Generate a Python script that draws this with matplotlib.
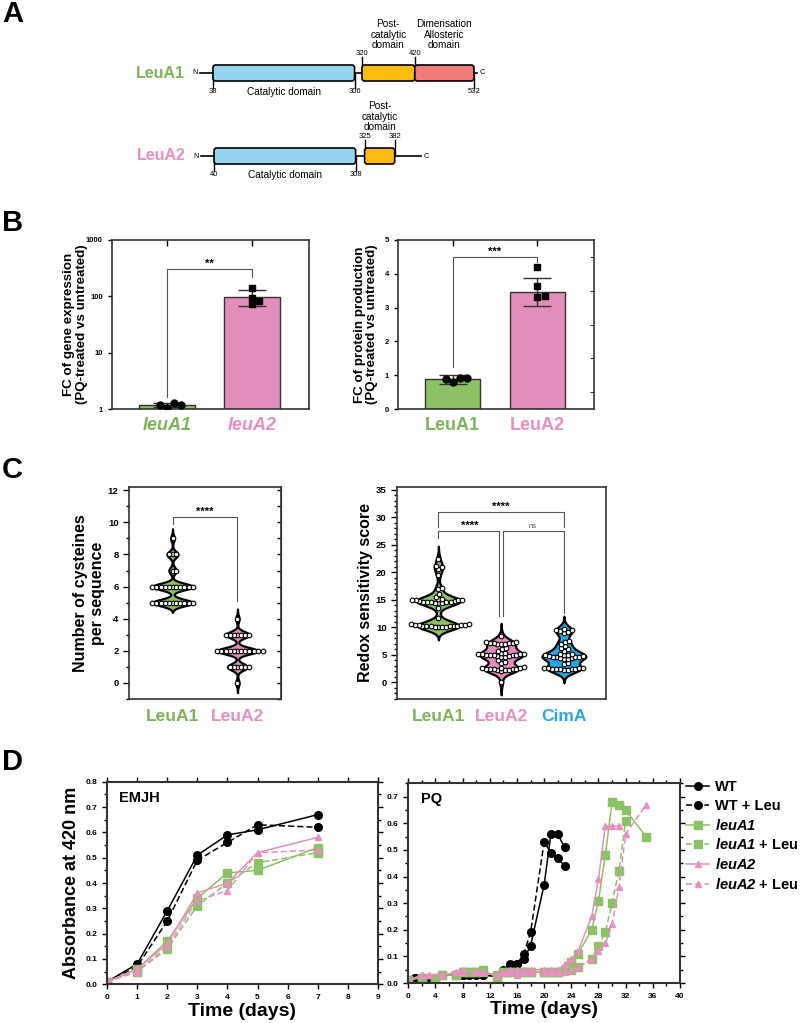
import numpy as np
import matplotlib
matplotlib.use("Agg")
import matplotlib.pyplot as plt
from matplotlib.patches import FancyBboxPatch
from matplotlib.ticker import MultipleLocator, FixedLocator, FormatStrFormatter

plt.rcParams['font.family'] = ['Liberation Sans', 'DejaVu Sans']
plt.rcParams['mathtext.fontset'] = 'custom'
plt.rcParams['mathtext.it'] = 'Liberation Sans:italic:bold'
plt.rcParams['mathtext.rm'] = 'Liberation Sans:italic:bold'

GREEN = '#7db35a'
PINK = '#e68fc0'
BLUE = '#27a9e1'
GREEN_FILL = '#8cc265'
PINK_FILL = '#e38dbb'
BLUE_FILL = '#22a8e4'
CYAN = '#96d4f0'
YELLOW = '#fbbc12'
SALMON = '#ef7b7b'
EDGE = '#333333'

# ---------------- data ----------------
# A: domain boundaries (residue numbers)
leua1_domains = [(38, 306), (320, 420), (420, 532)]
leua1_top = [320, 420]
leua1_bottom = [38, 306, 532]
leua2_domains = [(40, 308), (325, 382)]
leua2_top = [325, 382]
leua2_bottom = [40, 308]

# B: fold change (PQ-treated vs untreated)
gene_names = ['leuA1', 'leuA2']
gene_mean = [1.18, 97]
gene_err_lo = [0.10, 29]
gene_err_hi = [0.10, 31]
gene_leua1 = [1.05, 1.28, 1.18, 1.20]
gene_leua2 = [140, 95, 72, 82]

prot_names = ['LeuA1', 'LeuA2']
prot_mean = [0.88, 3.47]
prot_sd = [0.14, 0.41]
prot_leua1 = [0.80, 0.93, 0.89, 0.93]
prot_leua2 = [4.21, 3.65, 3.32, 3.35]

# C: cysteines per sequence
cys_leua1 = [5] * 11 + [6] * 11 + [7] * 2 + [8] * 3 + [9]
cys_leua2 = [0] + [1] * 6 + [2] * 12 + [3] * 7 + [4]

# C: redox sensitivity score
redox_leua1 = [10.0, 10.0, 10.1, 10.1, 10.2, 10.2, 10.2, 10.3, 10.3, 10.3, 10.4, 10.4,
               10.5, 10.5, 10.6, 10.6, 11.8, 13.5,
               14.4, 14.5, 14.5, 14.6, 14.6, 14.6, 14.7, 14.7, 14.8, 14.8, 14.9, 14.9,
               15.0, 15.0, 15.1, 15.2, 15.6, 16.0, 17.0, 17.2, 19.5, 20.6, 21.0, 21.2, 22.5]
redox_leua2 = [0.0, 2.0, 2.2, 2.3, 2.3, 2.4, 2.4, 2.5, 2.5, 2.5, 2.6, 2.6, 2.7, 2.8,
               3.5, 3.8, 4.0,
               4.6, 4.7, 4.8, 4.8, 4.9, 4.9, 5.0, 5.0, 5.0, 5.1, 5.1, 5.2, 5.2, 5.3, 5.4,
               5.8, 6.0, 6.3,
               6.9, 7.0, 7.0, 7.1, 7.1, 7.2, 7.2, 7.3, 7.3, 8.5]
redox_cima = [2.2, 2.3, 2.4, 2.4, 2.5, 2.5, 2.5, 2.6, 2.6, 2.7, 2.7, 3.3, 3.6,
              4.2, 4.3, 4.4, 4.5, 4.6, 4.6, 4.7, 4.7, 4.8, 4.8, 4.9, 5.0, 5.0, 5.1, 5.2,
              5.8, 6.1, 6.3, 6.6, 7.0, 7.3, 7.6,
              9.0, 9.2, 9.4, 9.5, 9.6, 9.8]

# D: growth curves, EMJH
emjh_days = [0, 1, 2, 3, 4, 5, 7]
emjh_wt = [0.01, 0.08, 0.29, 0.51, 0.59, 0.61, 0.67]
emjh_wt_leu = [0.01, 0.07, 0.25, 0.49, 0.56, 0.63, 0.62]
emjh_a1 = [0.01, 0.06, 0.17, 0.34, 0.44, 0.45, 0.54]
emjh_a1_leu = [0.01, 0.05, 0.14, 0.31, 0.40, 0.48, 0.52]
emjh_a2 = [0.01, 0.06, 0.16, 0.36, 0.40, 0.52, 0.58]
emjh_a2_leu = [0.01, 0.05, 0.15, 0.33, 0.37, 0.52, 0.53]

# D: growth curves, PQ
pq_wt_days = [0, 1, 2, 3, 4, 5, 7, 8, 9, 10, 11, 13, 14, 15, 16, 17, 18, 20, 21, 22, 23]
pq_wt = [0.01, 0.02, 0.02, 0.02, 0.01, 0.03, 0.03, 0.03, 0.03, 0.03, 0.03, 0.025,
         0.04, 0.05, 0.07, 0.09, 0.14, 0.37, 0.56, 0.56, 0.51]
pq_wt_leu = [0.01, 0.02, 0.02, 0.02, 0.01, 0.03, 0.03, 0.03, 0.03, 0.04, 0.03, 0.025,
             0.05, 0.07, 0.07, 0.11, 0.19, 0.53, 0.49, 0.47, 0.44]
pq_a1_days = [0, 2, 4, 5, 7, 8, 9, 10, 11, 13, 14, 15, 16, 17, 18, 20, 21, 22, 23,
              24, 25, 27, 28, 29, 30, 31, 32, 35]
pq_a1 = [0.01, 0.02, 0.02, 0.03, 0.03, 0.04, 0.04, 0.04, 0.05, 0.02, 0.04, 0.04, 0.04,
         0.04, 0.04, 0.04, 0.04, 0.04, 0.05, 0.08, 0.11, 0.20, 0.31, 0.48, 0.68, 0.67,
         0.65, 0.55]
pq_a1_leu_days = [0, 2, 4, 5, 7, 8, 9, 10, 11, 13, 14, 15, 16, 17, 18, 20, 21, 22, 23,
                  24, 25, 27, 28, 29, 30, 31, 32]
pq_a1_leu = [0.01, 0.02, 0.02, 0.03, 0.03, 0.04, 0.04, 0.04, 0.04, 0.03, 0.04, 0.04,
             0.04, 0.04, 0.04, 0.04, 0.04, 0.04, 0.05, 0.05, 0.06, 0.09, 0.14, 0.19,
             0.30, 0.42, 0.61]
pq_a2_days = [0, 2, 3, 5, 7, 8, 10, 11, 13, 14, 15, 16, 17, 18, 20, 21, 22, 23, 24,
              25, 27, 28, 29, 30, 31]
pq_a2 = [0.01, 0.03, 0.03, 0.03, 0.04, 0.05, 0.04, 0.04, 0.03, 0.04, 0.05, 0.05, 0.05,
         0.05, 0.05, 0.05, 0.05, 0.07, 0.09, 0.12, 0.25, 0.39, 0.59, 0.59, 0.59]
pq_a2_leu_days = [0, 2, 3, 5, 7, 8, 10, 11, 13, 14, 15, 16, 17, 18, 20, 21, 22, 23,
                  24, 25, 27, 28, 29, 30, 31, 32, 35]
pq_a2_leu = [0.01, 0.03, 0.03, 0.03, 0.04, 0.04, 0.04, 0.04, 0.03, 0.04, 0.04, 0.03,
             0.04, 0.04, 0.04, 0.04, 0.04, 0.04, 0.05, 0.06, 0.09, 0.12, 0.15, 0.22,
             0.36, 0.56, 0.67]

# ---------------- layout helpers ----------------
W, H = 800, 1023
fig = plt.figure(figsize=(W / 100, H / 100), dpi=100)


def px_axes(l, t, r, b):
    return fig.add_axes([l / W, 1 - b / H, (r - l) / W, (b - t) / H])


def style_box(ax, lw=1.2):
    for s in ax.spines.values():
        s.set_linewidth(lw)
        s.set_color(EDGE)


def swarm(vals, ux, uy, step=0.25):
    placed = []
    offs = []
    cands = [0.0]
    for i in range(1, 300):
        cands += [i * step * ux, -i * step * ux]
    for v in vals:
        for c in cands:
            if all(((c - px) / ux) ** 2 + ((v - py) / uy) ** 2 >= 1 for px, py in placed):
                break
        placed.append((c, v))
        offs.append(c)
    return np.array(offs)


def violin(ax, pos, vals, bw, width, fc):
    vals = np.asarray(vals, float)
    grid = np.linspace(vals.min() - 3 * bw, vals.max() + 3 * bw, 500)
    d = np.exp(-0.5 * ((grid[None, :] - vals[:, None]) / bw) ** 2).sum(axis=0)
    d = d / d.max() * width / 2
    ax.fill_betweenx(grid, pos - d, pos + d, fc=fc, ec='k', lw=1.6, zorder=2)


def panel_letter(x, y, s):
    fig.text(x / W, 1 - y / H, s, fontsize=21, weight='bold', va='center', ha='left')


# ---------------- A ----------------
axa = px_axes(0, 0, W, 220)
axa.set_xlim((0 - 192.9) / 0.5283, (W - 192.9) / 0.5283)
axa.set_ylim(220, 0)
axa.axis('off')


def draw_protein(y, name, color, domains, fills, top, bottom, c_end, labels, lab_off):
    n_start = domains[0][0] - 25
    axa.plot([n_start, c_end], [y, y], color='k', lw=1.2, zorder=1)
    for (s, e), fc in zip(domains, fills):
        axa.add_patch(FancyBboxPatch((s, y - 8), e - s, 16,
                                     boxstyle='round,pad=0,rounding_size=5',
                                     mutation_aspect=0.55, fc=fc, ec='k', lw=1.2, zorder=2))
    for r in top:
        axa.plot([r, r], [y, y - 16], color='k', lw=1.0, zorder=1)
        axa.text(r, y - 16, str(r), ha='center', va='bottom', fontsize=5.5)
    for r in bottom:
        axa.plot([r, r], [y, y + 15], color='k', lw=1.0, zorder=1)
        axa.text(r, y + 15, str(r), ha='center', va='top', fontsize=5.5)
    axa.text(n_start - 4, y, 'N', ha='right', va='center', fontsize=5.5)
    axa.text(c_end + 4, y, 'C', ha='left', va='center', fontsize=5.5)
    axa.text(n_start - 28, y, name, ha='right', va='center', fontsize=11.5,
             weight='bold', color=color)
    s, e = domains[0]
    axa.text((s + e) / 2, y + 19, 'Catalytic domain', ha='center', va='center', fontsize=7.2)
    for (s, e), lab in zip(domains[1:], labels):
        axa.text((s + e) / 2, y - lab_off, lab, ha='center', va='bottom',
                 fontsize=7.2, linespacing=1.05)


draw_protein(73, 'LeuA1', GREEN, leua1_domains, [CYAN, YELLOW, SALMON],
             leua1_top, leua1_bottom, 538,
             ['Post-\ncatalytic\ndomain', 'Dimerisation\nAllosteric\ndomain'], 23)
draw_protein(156, 'LeuA2', PINK, leua2_domains, [CYAN, YELLOW],
             leua2_top, leua2_bottom, 432, ['Post-\ncatalytic\ndomain'], 24)

# ---------------- B left ----------------
bw_bar = 0.65
ax = px_axes(112, 240, 309, 409)
x = np.arange(2)
ax.set_yscale('log')
ax.bar(x, gene_mean, width=bw_bar, color=[GREEN_FILL, PINK_FILL], edgecolor=EDGE, lw=1, zorder=2)
ax.errorbar(x, gene_mean, yerr=[gene_err_lo, gene_err_hi], fmt='none', ecolor=EDGE,
            elinewidth=1, capsize=10, capthick=1, zorder=3)
off = swarm(np.log10(gene_leua1), 0.085, 0.11, step=0.5)
ax.plot(0 + off, gene_leua1, 'o', color='k', ms=5, zorder=4)
off = swarm(np.log10(gene_leua2), 0.085, 0.11, step=0.5)
ax.plot(1 + off, gene_leua2, 's', color='k', ms=5, zorder=4)
ax.plot([0, 0, 1, 1], [1.65, 300, 300, 220], color='#555555', lw=0.8)
ax.text(0.5, 310, '**', ha='center', va='bottom', fontsize=8, weight='bold')
ax.set_xlim(-0.647, 1.67)
ax.set_ylim(1, 1000)
ax.set_yticks([1, 10, 100, 1000])
ax.set_yticklabels(['1', '10', '100', '1000'])
ax.yaxis.set_minor_locator(FixedLocator([]))
ax.set_xticks(x)
ax.set_xticklabels(gene_names)
for t, c in zip(ax.get_xticklabels(), [GREEN, PINK]):
    t.set_color(c)
    t.set_fontstyle('italic')
    t.set_fontweight('bold')
    t.set_fontsize(13)
ax.tick_params(axis='x', direction='in', top=True, length=4, pad=6, width=1)
ax.tick_params(axis='y', labelsize=5.5, direction='out', length=3, width=1)
for t in ax.get_yticklabels():
    t.set_fontweight('bold')
ax.set_ylabel('FC of gene expression\n(PQ-treated vs untreated)', fontsize=9.6,
              weight='bold', linespacing=1.1)
ax.yaxis.set_label_coords(-0.12, 0.5)
style_box(ax)

# ---------------- B right ----------------
ax = px_axes(398, 240, 594, 409)
ax.bar(x, prot_mean, width=bw_bar, color=[GREEN_FILL, PINK_FILL], edgecolor=EDGE, lw=1, zorder=2)
ax.errorbar(x, prot_mean, yerr=prot_sd, fmt='none', ecolor=EDGE,
            elinewidth=1, capsize=10, capthick=1, zorder=3)
off = swarm(prot_leua1, 0.085, 0.25, step=0.5)
ax.plot(0 + off, prot_leua1, 'o', color='k', ms=5, zorder=4)
off = swarm(prot_leua2, 0.085, 0.25, step=0.5)
ax.plot(1 + off, prot_leua2, 's', color='k', ms=5, zorder=4)
ax.plot([0, 0, 1, 1], [1.25, 4.5, 4.5, 4.36], color='#555555', lw=0.8)
ax.text(0.5, 4.5, '***', ha='center', va='bottom', fontsize=8, weight='bold')
ax.set_xlim(-0.647, 1.67)
ax.set_ylim(0, 5)
ax.yaxis.set_major_locator(MultipleLocator(1))
ax.set_xticks(x)
ax.set_xticklabels(prot_names)
for t, c in zip(ax.get_xticklabels(), [GREEN, PINK]):
    t.set_color(c)
    t.set_fontweight('bold')
    t.set_fontsize(13)
ax.tick_params(axis='x', direction='in', top=True, length=4, pad=6, width=1)
ax.tick_params(axis='y', labelsize=5.5, direction='out', length=3, width=1)
ax.yaxis.set_minor_locator(MultipleLocator(0.5))
ax.tick_params(axis='y', which='minor', direction='in', right=True, left=False, length=3)
for t in ax.get_yticklabels():
    t.set_fontweight('bold')
ax.set_ylabel('FC of protein production\n(PQ-treated vs untreated)', fontsize=9.6,
              weight='bold', linespacing=1.1)
ax.yaxis.set_label_coords(-0.10, 0.5)
style_box(ax)

# ---------------- C left ----------------
ax = px_axes(129, 487, 281, 699)
groups = [cys_leua1, cys_leua2]
fills = [GREEN_FILL, PINK_FILL]
for i, (vals, fc) in enumerate(zip(groups, fills)):
    pos = i + 1
    violin(ax, pos, vals, 0.2, 0.62, fc)
    off = swarm(vals, 3.8 / 65, 3.8 / 16)
    ax.scatter(pos + off, vals, s=11, fc='white', ec='k', lw=0.8, zorder=3)
ax.plot([1, 1, 2, 2], [9.9, 10.35, 10.35, 5.1], color='#555555', lw=0.8)
ax.text(1.5, 10.35, '****', ha='center', va='bottom', fontsize=8, weight='bold')
ax.set_xlim(0.33, 2.67)
ax.set_ylim(-1, 12.2)
ax.set_xticks([1, 2])
ax.set_xticklabels(['LeuA1', 'LeuA2'])
for t, c in zip(ax.get_xticklabels(), [GREEN, PINK]):
    t.set_color(c)
    t.set_fontweight('bold')
    t.set_fontsize(12.5)
ax.tick_params(axis='x', length=0, pad=7)
ax.yaxis.set_major_locator(MultipleLocator(2))
ax.yaxis.set_minor_locator(MultipleLocator(1))
ax.tick_params(axis='y', which='both', direction='out', right=False, labelsize=6.8, width=1)
ax.tick_params(axis='y', which='major', length=4)
ax.tick_params(axis='y', which='minor', length=2.5)
ax2 = ax.secondary_yaxis('right')
ax2.yaxis.set_major_locator(MultipleLocator(1))
ax2.tick_params(direction='in', length=3, labelright=False, width=1)
for t in ax.get_yticklabels():
    t.set_fontweight('bold')
ax.set_ylabel('Number of cysteines\nper sequence', fontsize=11.5, weight='bold',
              linespacing=1.1)
ax.yaxis.set_label_coords(-0.16, 0.5)
style_box(ax)

# ---------------- C right ----------------
ax = px_axes(397, 487, 606, 699)
groups = [redox_leua1, redox_leua2, redox_cima]
fills = [GREEN_FILL, PINK_FILL, BLUE_FILL]
for i, (vals, fc) in enumerate(zip(groups, fills)):
    pos = i + 1
    violin(ax, pos, vals, 0.75, 0.7, fc)
    off = swarm(vals, 3.8 / 63, 3.8 / 5.48)
    ax.scatter(pos + off, vals, s=11, fc='white', ec='k', lw=0.8, zorder=3)
d = 0.03
ax.plot([1, 1, 3, 3], [28.2, 30.9, 30.9, 28.2], color='#555555', lw=0.8)
ax.text(2, 30.9, '****', ha='center', va='bottom', fontsize=8, weight='bold')
ax.plot([1, 1, 2 - d, 2 - d], [26.3, 27.5, 27.5, 12.0], color='#555555', lw=0.8)
ax.text(1.5, 27.5, '****', ha='center', va='bottom', fontsize=8, weight='bold')
ax.plot([2 + d, 2 + d, 3, 3], [12.0, 27.5, 27.5, 12.7], color='#555555', lw=0.8)
ax.text(2.5, 27.7, 'ns', ha='center', va='bottom', fontsize=5.5, color='#555555')
ax.set_xlim(0.34, 3.67)
ax.set_ylim(-3, 35.5)
ax.set_xticks([1, 2, 3])
ax.set_xticklabels(['LeuA1', 'LeuA2', 'CimA'])
for t, c in zip(ax.get_xticklabels(), [GREEN, PINK, BLUE]):
    t.set_color(c)
    t.set_fontweight('bold')
    t.set_fontsize(12.5)
ax.tick_params(axis='x', length=0, pad=7)
ax.yaxis.set_major_locator(MultipleLocator(5))
ax.yaxis.set_minor_locator(MultipleLocator(1))
ax.tick_params(axis='y', which='both', direction='out', labelsize=6.8, width=1)
ax.tick_params(axis='y', which='major', length=4)
ax.tick_params(axis='y', which='minor', length=2.5)
for t in ax.get_yticklabels():
    t.set_fontweight('bold')
ax.set_ylabel('Redox sensitivity score', fontsize=11.5, weight='bold')
ax.yaxis.set_label_coords(-0.115, 0.5)
style_box(ax)

# ---------------- D ----------------
series_style = [
    ('k', '-', 'o', 5.5), ('k', '--', 'o', 5.5),
    (GREEN_FILL, '-', 's', 5.5), (GREEN_FILL, '--', 's', 5.5),
    (PINK, '-', '^', 5), (PINK, '--', '^', 5),
]
legend_labels = ['WT', 'WT + Leu', r'$\mathit{leuA1}$', r'$\mathit{leuA1}$ + Leu',
                 r'$\mathit{leuA2}$', r'$\mathit{leuA2}$ + Leu']


def style_growth(ax, text):
    ax.text(0.045, 0.92, text, transform=ax.transAxes, fontsize=10.5, weight='bold',
            va='center')
    ax.tick_params(which='both', direction='out', labelsize=6, width=1)
    ax.tick_params(which='major', length=3.5)
    ax.tick_params(which='minor', length=2)
    ax.tick_params(which='both', top=True, right=True)
    for t in ax.get_xticklabels() + ax.get_yticklabels():
        t.set_fontweight('bold')
    ax.set_xlabel('Time (days)', fontsize=14, weight='bold')
    ax.xaxis.set_label_coords(0.5, -0.09)
    style_box(ax, 1.5)


ax = px_axes(107, 781.7, 378, 984.3)
emjh = [emjh_wt, emjh_wt_leu, emjh_a1, emjh_a1_leu, emjh_a2, emjh_a2_leu]
for vals, (c, ls, m, ms) in zip(emjh, series_style):
    ax.plot(emjh_days, vals, color=c, ls=ls, marker=m, ms=ms, lw=1.1,
            dashes=(4, 2) if ls == '--' else (None, None))
ax.set_xlim(0, 9)
ax.set_ylim(0, 0.8)
ax.xaxis.set_major_locator(MultipleLocator(1))
ax.yaxis.set_major_locator(MultipleLocator(0.1))
ax.yaxis.set_minor_locator(MultipleLocator(0.05))
ax.yaxis.set_major_formatter(FormatStrFormatter('%.1f'))
style_growth(ax, 'EMJH')
ax.set_ylabel('Absorbance at 420 nm', fontsize=13, weight='bold')
ax.yaxis.set_label_coords(-0.10, 0.5)

ax = px_axes(408.3, 782.7, 680, 983)
pq = [(pq_wt_days, pq_wt), (pq_wt_days, pq_wt_leu), (pq_a1_days, pq_a1),
      (pq_a1_leu_days, pq_a1_leu), (pq_a2_days, pq_a2), (pq_a2_leu_days, pq_a2_leu)]
handles = []
for (dd, vals), (c, ls, m, ms) in zip(pq, series_style):
    h, = ax.plot(dd, vals, color=c, ls=ls, marker=m, ms=ms, lw=1.1,
                 dashes=(4, 2) if ls == '--' else (None, None))
    handles.append(h)
ax.set_xlim(0, 40)
ax.set_ylim(0, 0.753)
ax.xaxis.set_major_locator(MultipleLocator(4))
ax.xaxis.set_minor_locator(MultipleLocator(2))
ax.yaxis.set_major_locator(MultipleLocator(0.1))
ax.yaxis.set_minor_locator(MultipleLocator(0.05))
ax.yaxis.set_major_formatter(FormatStrFormatter('%.1f'))
style_growth(ax, 'PQ')

fig.legend(handles, legend_labels, loc='upper left', bbox_to_anchor=(686 / W, 1 - 780 / H),
           frameon=False, prop={'weight': 'bold', 'size': 10.5}, handlelength=1.6,
           labelspacing=0.33, handletextpad=0.4, borderaxespad=0, borderpad=0)

panel_letter(2, 14, 'A')
panel_letter(2, 223, 'B')
panel_letter(2, 470, 'C')
panel_letter(2, 762, 'D')

fig.savefig('out.png', dpi=100)
